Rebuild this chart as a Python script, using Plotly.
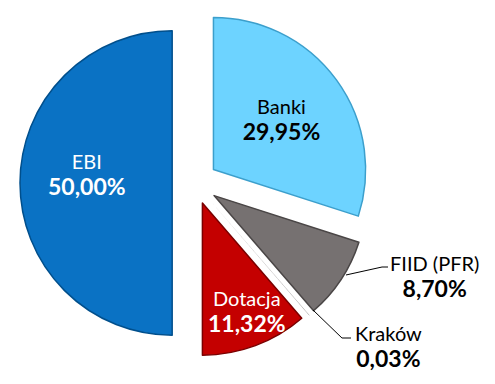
import plotly.graph_objects as go

labels = ["Banki", "FIID (PFR)", "Kraków", "Dotacja", "EBI"]
values = [29.95, 8.70, 0.03, 11.32, 50.00]
pct_text = ["29,95%", "8,70%", "0,03%", "11,32%", "50,00%"]
colors = ["#6DD3FF", "#767171", "#767171", "#C40000", "#0A72C4"]
line_colors = ["#3C9FCC", "#4A4646", "rgba(0,0,0,0)", "#7A0000", "#004F8C"]
line_widths = [1.5, 1.5, 0, 1.5, 1.5]
text_colors = ["#000000", "#000000", "#000000", "#FFFFFF", "#FFFFFF"]
# labels drawn by the pie itself (inside) or as separate annotations
text_pos = ["inside", "none", "none", "none", "none"]
pulls = [0.15, 0.15, 0.15, 0.14, 0.15]

FONT = "Lato"
LBL_SIZE = 20
PCT_SIZE = 23

W, H = 495, 384
OFF = 8  # default page body margin shifts the figure by this many px


def px_x(x):
    return (x - OFF) / W


def px_y(y):
    return 1 - (y - OFF) / H


def P(x, y):
    return f"{px_x(x):.4f},{px_y(y):.4f}"


texts = [f"{l}<br><span style='font-size:{PCT_SIZE}px'><b>{p}</b></span>"
         for l, p in zip(labels, pct_text)]

# pie box: centre on page and side length in px
CX, CY, S = 195, 183, 350

fig = go.Figure(go.Pie(
    labels=labels,
    values=values,
    text=texts,
    textinfo="text",
    textposition=text_pos,
    insidetextorientation="horizontal",
    sort=False,
    direction="clockwise",
    rotation=0,
    pull=pulls,
    marker=dict(colors=colors, line=dict(color=line_colors, width=line_widths)),
    textfont=dict(family=FONT, size=LBL_SIZE, color=text_colors),
    showlegend=False,
    hoverinfo="label+value",
    domain=dict(x=[px_x(CX - S / 2), px_x(CX + S / 2)],
                y=[px_y(CY + S / 2), px_y(CY - S / 2)]),
))

# label centres on the page
ann_pos = {
    "EBI": (87, 174),
    "Dotacja": (247, 311),
    "FIID (PFR)": (434, 276),
    "Kraków": (388, 346),
}
annotations = []
for i, lab in enumerate(labels):
    if lab in ann_pos:
        x, y = ann_pos[lab]
        annotations.append(dict(
            x=px_x(x), y=px_y(y),
            xref="paper", yref="paper", showarrow=False,
            xanchor="center", yanchor="middle",
            text=texts[i],
            font=dict(family=FONT, size=LBL_SIZE, color=text_colors[i]),
        ))

# leader lines for the outside labels
shapes = [
    dict(type="path", xref="paper", yref="paper",
         path=f"M {P(346, 275)} L {P(382, 267)} L {P(388, 267)}",
         line=dict(color="#000000", width=1)),
    dict(type="path", xref="paper", yref="paper",
         path=f"M {P(313, 310)} L {P(342, 338)} L {P(351, 338)}",
         line=dict(color="#000000", width=1)),
]

fig.update_layout(
    width=W, height=H,
    margin=dict(l=0, r=0, t=0, b=0),
    paper_bgcolor="white",
    plot_bgcolor="white",
    annotations=annotations,
    shapes=shapes,
)

fig.write_html("out.html")
